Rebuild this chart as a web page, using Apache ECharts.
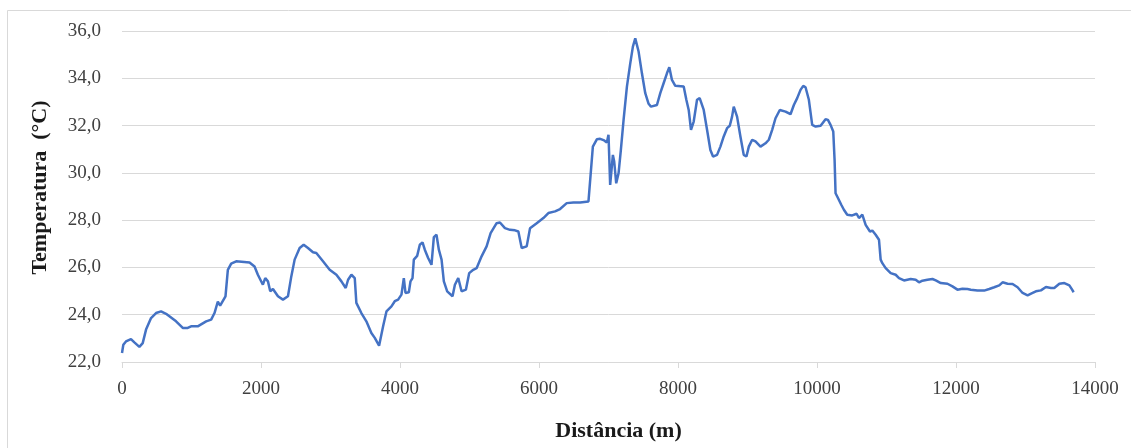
<!DOCTYPE html>
<html>
<head>
<meta charset="utf-8">
<script src="https://cdn.jsdelivr.net/npm/echarts@6/dist/echarts.min.js"></script>
<style>
html,body{margin:0;padding:0;background:#fff;}
#chart{width:1131px;height:448px;}
</style>
</head>
<body>
<div id="chart"></div>
<script>
// Distance along the transect (m)
const distances = [
  0, 19, 57, 129, 178, 250, 298, 346, 418, 490, 562, 634, 778, 874, 946, 994, 1090, 1211, 1283, 1331,
  1379, 1412, 1489, 1523, 1571, 1643, 1835, 1907, 1955, 2027, 2061, 2100, 2133, 2172, 2244, 2316, 2388, 2436, 2484, 2556,
  2614, 2676, 2748, 2796, 2892, 2988, 3085, 3157, 3219, 3253, 3301, 3349,
  3372, 3444, 3516, 3588, 3637, 3699, 3757, 3805, 3877, 3925, 3973, 4021, 4055, 4079, 4127, 4151, 4180, 4199,
  4247, 4285, 4324, 4357, 4405, 4453, 4487, 4525, 4559, 4598, 4631, 4679, 4756, 4790, 4838, 4886, 4948, 4996, 5054, 5102,
  5174, 5246, 5304, 5390, 5438, 5510, 5583, 5655, 5703, 5751, 5823, 5871, 5967, 6063, 6135, 6231, 6303, 6399, 6495, 6592,
  6712, 6775, 6832, 6880, 6938, 6976, 7000, 7024, 7063, 7082, 7111, 7145, 7178, 7217, 7265, 7313, 7351, 7385, 7433, 7481,
  7529, 7577, 7611, 7697, 7745, 7793, 7841, 7875, 7913, 7961, 8082, 8120, 8154, 8187, 8226, 8274, 8312, 8370, 8418, 8466,
  8504, 8562, 8610, 8658, 8706, 8745, 8778, 8802, 8850, 8898, 8946, 8985, 9019, 9067, 9115, 9187, 9259, 9307, 9355, 9403,
  9465, 9547, 9619, 9667, 9715, 9763, 9802, 9835, 9883, 9931, 9980, 10052, 10123, 10157, 10195, 10234, 10253, 10267, 10291, 10315,
  10349, 10387, 10435, 10507, 10570, 10604, 10652, 10700, 10762, 10796, 10844, 10892, 10916, 10940, 10988, 11060, 11132, 11180, 11252, 11348,
  11420, 11468, 11517, 11589, 11661, 11709, 11781, 11877, 11949, 12021, 12093, 12165, 12213, 12309, 12405, 12478, 12550, 12622, 12670, 12742,
  12814, 12886, 12958, 13030, 13102, 13150, 13222, 13294, 13366, 13414, 13487, 13559, 13631, 13664, 13693
];
// Temperature (ºC)
const temperatures = [
  22.38, 22.73, 22.87, 22.97, 22.83, 22.64, 22.80, 23.37, 23.86, 24.07, 24.14, 24.04, 23.72, 23.44, 23.44, 23.51, 23.51, 23.72, 23.79, 24.07,
  24.56, 24.38, 24.78, 25.90, 26.16, 26.26, 26.21, 26.04, 25.69, 25.27, 25.55, 25.41, 24.99, 25.09, 24.78, 24.64, 24.78, 25.62, 26.33, 26.82,
  26.96, 26.82, 26.64, 26.61, 26.26, 25.90, 25.69, 25.41, 25.13, 25.48, 25.69, 25.55,
  24.50, 24.07, 23.72, 23.23, 23.02, 22.69, 23.51, 24.14, 24.35, 24.57, 24.64, 24.85, 25.55, 24.92, 24.95, 25.41, 25.55, 26.33,
  26.49, 26.96, 27.06, 26.75, 26.40, 26.11, 27.28, 27.38, 26.75, 26.33, 25.41, 24.99, 24.78, 25.27, 25.55, 24.99, 25.06, 25.76, 25.90, 25.97,
  26.47, 26.89, 27.45, 27.87, 27.90, 27.66, 27.59, 27.57, 27.52, 26.82, 26.89, 27.66, 27.87, 28.09, 28.30, 28.37, 28.47, 28.72, 28.75, 28.75,
  28.79, 31.11, 31.42, 31.44, 31.37, 31.28, 31.61, 29.49, 30.76, 30.48, 29.56, 29.99, 30.97, 32.24, 33.65, 34.63, 35.34, 35.69, 35.13, 34.21,
  33.37, 32.92, 32.80, 32.87, 33.37, 33.79, 34.21, 34.47, 33.93, 33.68, 33.65, 33.09, 32.66, 31.82, 32.17, 33.09, 33.16, 32.66, 31.82, 30.97,
  30.69, 30.76, 31.11, 31.54, 31.89, 31.99, 32.38, 32.80, 32.38, 31.54, 30.76, 30.69, 31.11, 31.40, 31.33, 31.11, 31.25, 31.40, 31.82, 32.31,
  32.66, 32.59, 32.48, 32.87, 33.16, 33.51, 33.68, 33.62, 33.09, 32.03, 31.96, 31.99, 32.27, 32.24, 32.03, 31.75, 30.55, 29.14, 29.00, 29.00,
  28.65, 28.44, 28.23, 28.20, 28.27, 28.09, 28.23, 27.80, 27.52, 27.56, 27.38, 27.17, 26.33, 26.18, 25.97, 25.76, 25.69, 25.55, 25.45, 25.51,
  25.48, 25.37, 25.44, 25.48, 25.51, 25.45, 25.34, 25.31, 25.20, 25.06, 25.10, 25.09, 25.06, 25.02, 25.02, 25.09, 25.16, 25.24, 25.37, 25.31,
  25.30, 25.16, 24.92, 24.82, 24.92, 24.99, 25.03, 25.17, 25.13, 25.13, 25.31, 25.34, 25.24, 25.09, 24.95
];
const xTitle = 'Distância (m)';
const yTitle = 'Temperatura';
const yUnit = '(°C)';

const seriesData = distances.map((d, i) => [d, temperatures[i]]);

const chart = echarts.init(document.getElementById('chart'), null, {renderer: 'canvas'});
const serif = '"Liberation Serif", "Times New Roman", serif';
chart.setOption({
  animation: false,
  backgroundColor: '#ffffff',
  grid: {left: 122, right: 36, top: 31, bottom: 86, containLabel: false},
  graphic: [{
    type: 'rect',
    shape: {x: 7.5, y: 10.5, width: 1140, height: 460},
    style: {fill: 'none', stroke: '#d9d9d9', lineWidth: 1},
    silent: true
  }],
  xAxis: {
    type: 'value',
    min: 0, max: 14000, interval: 2000,
    name: xTitle,
    nameLocation: 'middle',
    nameGap: 58,
    nameTextStyle: {fontFamily: serif, fontSize: 22, fontWeight: 'bold', color: '#1a1a1a', padding: [0, 0, 0, 20]},
    axisLine: {show: true, lineStyle: {color: '#d9d9d9', width: 1}},
    axisTick: {show: true, length: 6, lineStyle: {color: '#d9d9d9'}},
    splitLine: {show: false},
    axisLabel: {fontFamily: serif, fontSize: 19, color: '#404040', margin: 18,
      formatter: v => String(v)}
  },
  yAxis: {
    type: 'value',
    min: 22, max: 36, interval: 2,
    name: '{b|' + yTitle + '}{n|  ' + yUnit + '}',
    nameLocation: 'middle',
    nameGap: 71,
    nameRotate: 90,
    nameTextStyle: {
      padding: [0, 0, 0, 18],
      rich: {
        b: {fontFamily: serif, fontSize: 22, fontWeight: 'bold', color: '#1a1a1a'},
        n: {fontFamily: serif, fontSize: 22, fontWeight: 'bold', color: '#1a1a1a'}
      }
    },
    axisLine: {show: false},
    axisTick: {show: false},
    splitLine: {show: true, lineStyle: {color: '#d9d9d9', width: 1}},
    axisLabel: {
      fontFamily: serif, fontSize: 19, color: '#404040', margin: 21,
      formatter: v => v.toFixed(1).replace('.', ',')
    }
  },
  series: [{
    type: 'line',
    data: seriesData,
    showSymbol: false,
    smooth: false,
    lineStyle: {color: '#4472c4', width: 2.5},
    itemStyle: {color: '#4472c4'}
  }]
});
</script>
</body>
</html>
